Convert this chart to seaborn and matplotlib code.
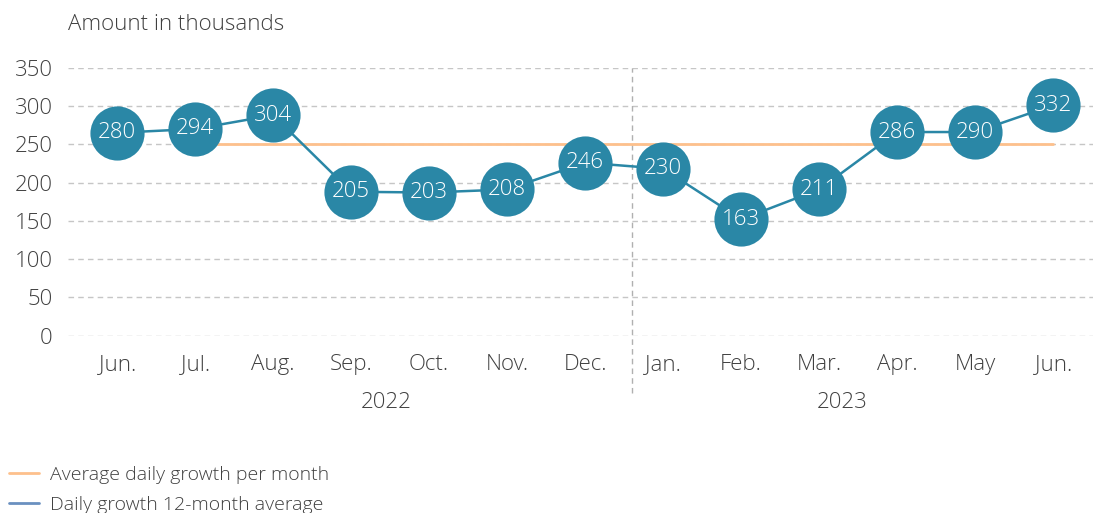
import matplotlib
matplotlib.use("Agg")
import matplotlib.pyplot as plt
from matplotlib.lines import Line2D
import seaborn as sns
import pandas as pd
import numpy as np

# data
months = ["Jun.", "Jul.", "Aug.", "Sep.", "Oct.", "Nov.", "Dec.",
          "Jan.", "Feb.", "Mar.", "Apr.", "May", "Jun."]
years = ["2022"] * 7 + ["2023"] * 6
# plotted position of the 12-month average line
avg_12m = [265, 270, 288, 188, 187, 191, 226, 218, 152, 191, 266, 266, 301]
# labels shown inside the circles
avg_12m_labels = [280, 294, 304, 205, 203, 208, 246, 230, 163, 211, 286, 290, 332]
# average daily growth per month (flat line, starts at Jul. 2022)
avg_month = [np.nan, 250, 250, 250, 250, 250, 250, 250, 250, 250, 250, 250, 250]

df = pd.DataFrame({"pos": np.arange(len(months)), "month": months, "year": years,
                   "avg_12m": avg_12m, "label": avg_12m_labels, "avg_month": avg_month})

sns.set_style("white")
plt.rcParams["font.family"] = ["Open Sans", "DejaVu Sans"]

BLUE = "#2a87a6"
ORANGE = "#fdc08c"
LEGEND_BLUE = "#6a90c0"
GRID = "#c6c6c6"
TXT = "#404040"
FS = 16

fig = plt.figure(figsize=(10.93, 5.13), dpi=100)
ax = fig.add_axes([0.0622, 0.3456, 0.9378, 0.5224])

# grid lines
for v in range(0, 351, 50):
    ax.axhline(v, color=GRID, lw=1, ls=(0, (4, 3)), zorder=0)

# orange line
sns.lineplot(data=df, x="pos", y="avg_month", ax=ax, color=ORANGE, lw=2, zorder=2)
# 12-month average with big circles
sns.lineplot(data=df, x="pos", y="avg_12m", ax=ax, color=BLUE, lw=1.8,
             marker="o", markersize=39, markeredgewidth=0, zorder=3)

for _, r in df.iterrows():
    ax.text(r["pos"], r["avg_12m"], str(r["label"]), color="white", fontsize=16,
            fontweight="light", ha="center", va="center", zorder=4)

# year separator
ax.axvline(6.6, ymin=-0.215, ymax=1, color="#b0b0b0", lw=1, ls=(0, (4, 3)),
           clip_on=False, zorder=1)

ax.set_xlim(-0.63, 12.51)
ax.set_ylim(0, 350)
ax.set_yticks(range(0, 351, 50))
ax.set_xticks(df["pos"])
ax.set_xticklabels(months)
ax.tick_params(axis="both", length=0, labelsize=FS, labelcolor=TXT)
ax.tick_params(axis="x", pad=13)
ax.tick_params(axis="y", pad=11)
for lab in ax.get_xticklabels() + ax.get_yticklabels():
    lab.set_fontweight("light")
ax.set_xlabel("")
ax.set_ylabel("")
sns.despine(ax=ax, left=True, bottom=True)

# year labels
trans = ax.get_xaxis_transform()
ax.text(3.45, -0.25, "2022", transform=trans, ha="center", va="center",
        fontsize=FS, color=TXT, fontweight="light")
ax.text(9.3, -0.25, "2023", transform=trans, ha="center", va="center",
        fontsize=FS, color=TXT, fontweight="light")

# title
fig.text(0.0622, 0.953, "Amount in thousands", ha="left", va="center",
         fontsize=FS, color=TXT, fontweight="light")

# legend
handles = [Line2D([], [], color=ORANGE, lw=2),
           Line2D([], [], color=LEGEND_BLUE, lw=2)]
leg = fig.legend(handles, ["Average daily growth per month", "Daily growth 12-month average"],
                 loc="lower left", bbox_to_anchor=(-0.004, -0.028), frameon=False,
                 fontsize=14, handlelength=1.55, handletextpad=0.55, labelspacing=0.62,
                 borderaxespad=0.3, labelcolor=TXT)
for t in leg.get_texts():
    t.set_fontweight("light")

fig.savefig("out.png", dpi=100)
